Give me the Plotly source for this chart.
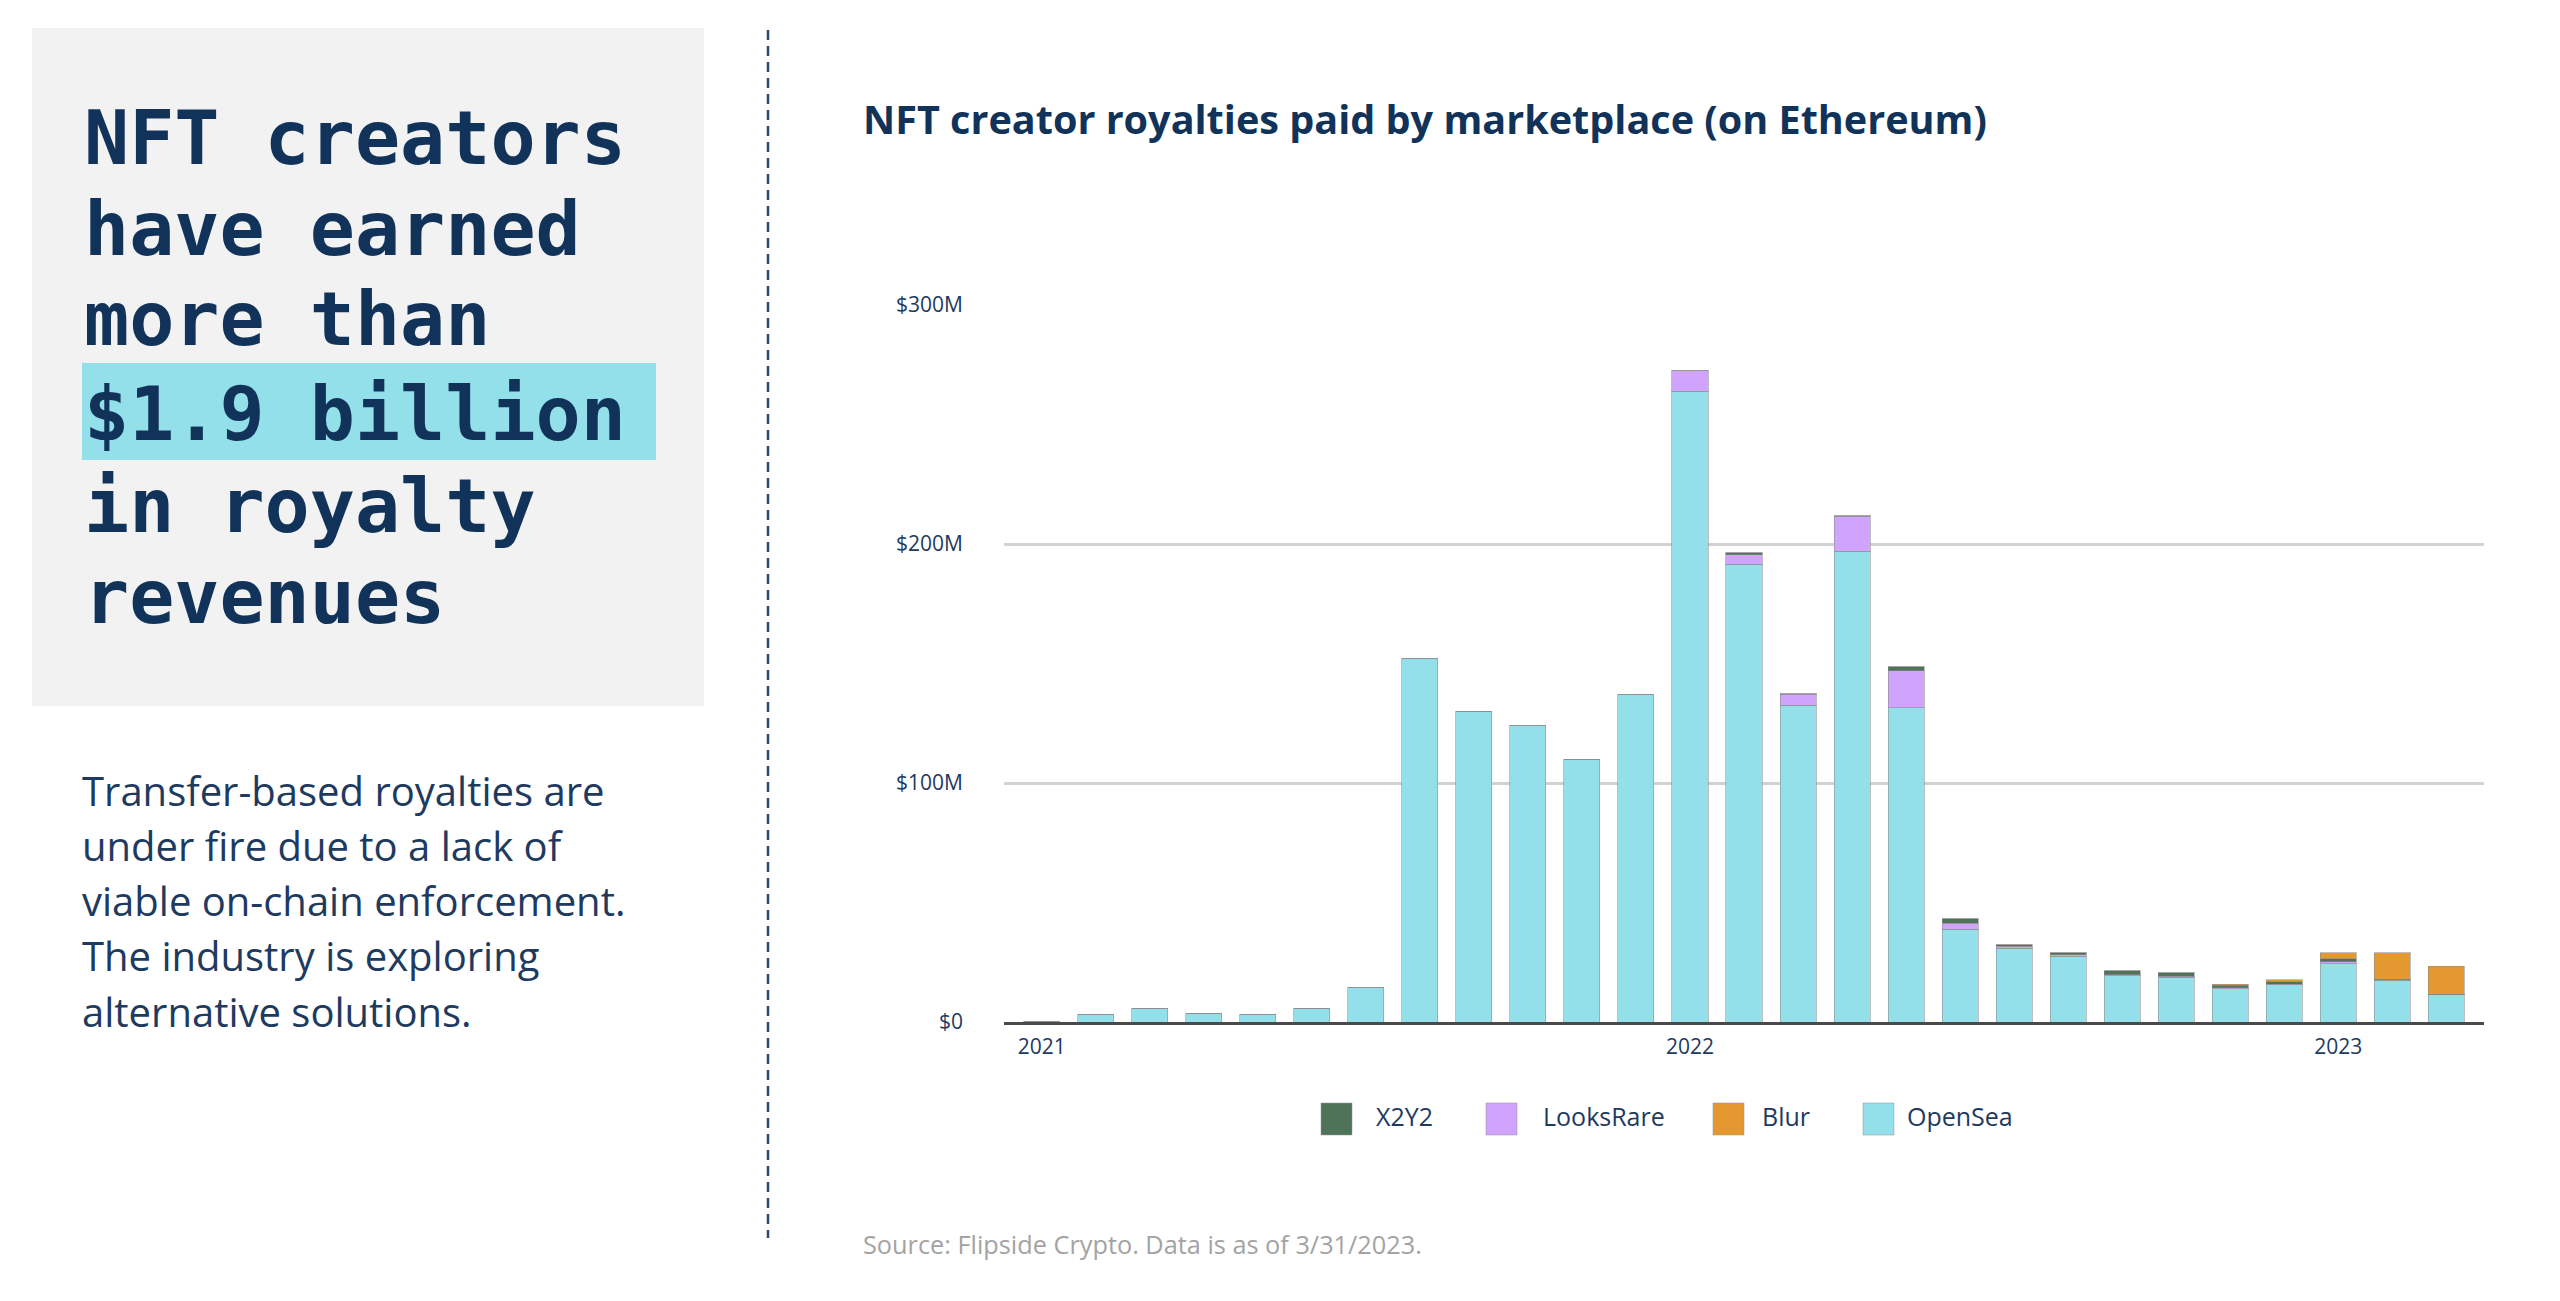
import plotly.graph_objects as go

# ---------------- data (values in $ millions) ----------------
months = [
    "2021-01", "2021-02", "2021-03", "2021-04", "2021-05", "2021-06",
    "2021-07", "2021-08", "2021-09", "2021-10", "2021-11", "2021-12",
    "2022-01", "2022-02", "2022-03", "2022-04", "2022-05", "2022-06",
    "2022-07", "2022-08", "2022-09", "2022-10", "2022-11", "2022-12",
    "2023-01", "2023-02", "2023-03",
]
opensea = [0.4, 3.0, 5.8, 3.6, 3.0, 5.8, 14.4, 152.0, 130.0, 124.0, 110.0, 137.0,
           264.0, 191.5, 132.6, 197.0, 131.5, 38.9, 30.8, 27.5, 19.4, 18.7, 14.0, 15.5,
           24.3, 17.4, 11.4]
looksrare = [0, 0, 0, 0, 0, 0, 0, 0, 0, 0, 0, 0,
             8.5, 4.0, 4.6, 14.6, 15.5, 2.4, 0.8, 0.6, 0.4, 0.4, 0.3, 0.3,
             1.0, 0.2, 0.1]
x2y2 = [0, 0, 0, 0, 0, 0, 0, 0, 0, 0, 0, 0,
        0, 0.9, 0.2, 0.2, 1.7, 1.8, 0.8, 0.8, 1.6, 1.6, 1.0, 1.1,
        1.1, 0.2, 0.1]
blur = [0, 0, 0, 0, 0, 0, 0, 0, 0, 0, 0, 0,
        0, 0, 0, 0, 0, 0, 0, 0, 0, 0, 0.6, 0.8,
        2.5, 11.1, 11.7]

series_names = ["OpenSea", "LooksRare", "X2Y2", "Blur"]   # stacking order, bottom -> top
series_values = [opensea, looksrare, x2y2, blur]
series_colors = {"OpenSea": "#93e0ea", "LooksRare": "#d0a3fc", "X2Y2": "#4f7358", "Blur": "#e3992f"}
legend_order = ["X2Y2", "LooksRare", "Blur", "OpenSea"]

year_ticks = ["2021-01", "2022-01", "2023-01"]
year_labels = ["2021", "2022", "2023"]
y_ticks = [0, 100, 200, 300]
y_tick_labels = ["$0", "$100M", "$200M", "$300M"]

headline = ["NFT creators", "have earned", "more than", "$1.9 billion", "in royalty", "revenues"]
body = ["Transfer-based royalties are", "under fire due to a lack of",
        "viable on-chain enforcement.", "The industry is exploring",
        "alternative solutions."]
chart_title = "NFT creator royalties paid by marketplace (on Ethereum)"
source_text = "Source: Flipside Crypto. Data is as of 3/31/2023."

# ---------------- layout helpers ----------------
W, H = 2560, 1301
NAVY = "#123359"


def px(x):
    return x / W


def py(y):
    return 1 - y / H


fig = go.Figure()
for name, vals in zip(series_names, series_values):
    fig.add_trace(go.Bar(
        x=months, y=vals, name=name,
        marker=dict(color=series_colors[name], line=dict(color="rgba(140,140,140,0.55)", width=1)),
        showlegend=False,
    ))

shapes = []
annotations = []

# grey panel + highlight
shapes.append(dict(type="rect", xref="paper", yref="paper", x0=px(32), x1=px(704), y0=py(706), y1=py(28),
                   fillcolor="#f2f2f2", line=dict(width=0), layer="below"))
shapes.append(dict(type="rect", xref="paper", yref="paper", x0=px(82), x1=px(656), y0=py(460), y1=py(363),
                   fillcolor="#93e0ea", line=dict(width=0), layer="below"))
# dashed divider
shapes.append(dict(type="line", xref="paper", yref="paper", x0=px(768), x1=px(768), y0=py(30), y1=py(1238),
                   line=dict(color="#2a4870", width=2.5, dash="10px,6px")))

# headline lines (monospace bold)
head_font = dict(family="DejaVu Sans Mono", size=75, color=NAVY)
head_baselines = [164, 255, 345, 440, 532.5, 623]
for line, base in zip(headline, head_baselines):
    annotations.append(dict(text="<b>" + line + "</b>", xref="paper", yref="paper", x=px(82), y=py(base - 26),
                            xanchor="left", yanchor="middle", showarrow=False, font=head_font))

# body text
body_font = dict(family="Open Sans", size=40, color="#1e3a5f")
for i, line in enumerate(body):
    base = 805.5 + i * 55.3
    annotations.append(dict(text=line, xref="paper", yref="paper", x=px(80), y=py(base - 15.5),
                            xanchor="left", yanchor="middle", showarrow=False, font=body_font))

# chart title
annotations.append(dict(text="<b>" + chart_title + "</b>", xref="paper", yref="paper", x=px(861), y=py(119),
                        xanchor="left", yanchor="middle", showarrow=False,
                        font=dict(family="Open Sans", size=39.6, color=NAVY)))

# legend (custom, large squares)
legend_sq_x = [1321, 1486, 1713, 1863]
legend_tx_x = [1374, 1541, 1760, 1905]
for name, x0, xt in zip(legend_order, legend_sq_x, legend_tx_x):
    shapes.append(dict(type="rect", xref="paper", yref="paper", x0=px(x0), x1=px(x0 + 31),
                       y0=py(1135), y1=py(1103), fillcolor=series_colors[name],
                       line=dict(color="rgba(150,150,150,0.5)", width=1)))
    annotations.append(dict(text=name, xref="paper", yref="paper", x=px(xt), y=py(1116),
                            xanchor="left", yanchor="middle", showarrow=False,
                            font=dict(family="Open Sans", size=25, color="#1e3a5f")))

# source
annotations.append(dict(text=source_text, xref="paper", yref="paper", x=px(861), y=py(1244),
                        xanchor="left", yanchor="middle", showarrow=False,
                        font=dict(family="Open Sans", size=25.3, color="#a3a3a3")))

fig.update_layout(
    width=W, height=H,
    margin=dict(l=0, r=0, t=0, b=0, autoexpand=False),
    paper_bgcolor="white", plot_bgcolor="white",
    barmode="stack", bargap=0.333,
    showlegend=False,
    shapes=shapes, annotations=annotations,
    font=dict(family="Open Sans", color="#1e3a5f"),
    xaxis=dict(
        domain=[px(1004), px(2484)],
        type="category", categoryorder="array", categoryarray=months,
        range=[-0.7, len(months) - 0.3],
        tickmode="array", tickvals=year_ticks, ticktext=year_labels,
        tickfont=dict(family="Open Sans", size=21, color="#1e3a5f"),
        showgrid=False, zeroline=False,
        showline=True, linecolor="#4a4a4a", linewidth=3, layer="below traces",
        ticks="", ticklabelstandoff=4, automargin=False,
        fixedrange=True,
    ),
    yaxis=dict(
        domain=[py(1022), py(305)],
        range=[0, 300],
        tickmode="array", tickvals=y_ticks, ticktext=y_tick_labels,
        tickfont=dict(family="Open Sans", size=21, color="#1e3a5f"),
        showgrid=True, gridcolor="#d2d2d2", gridwidth=2.5,
        zeroline=False, showline=False, ticks="", ticklabelstandoff=40, automargin=False,
        fixedrange=True,
    ),
)

fig.write_html("out.html", config={"displayModeBar": False},
               post_script="document.body.style.margin='0';document.body.style.overflow='hidden';")
